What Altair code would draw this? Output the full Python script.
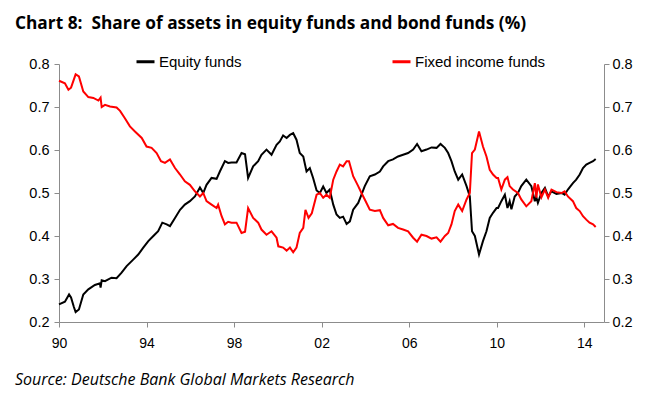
import altair as alt
import pandas as pd

title_text = "Chart 8:\u00a0 Share of assets in equity funds and bond funds (%)"
source_text = "Source: Deutsche Bank Global Markets Research"
series_names = ["Equity funds", "Fixed income funds"]
series_colors = ["#000000", "#FF0000"]
x_tick_years = [1990, 1994, 1998, 2002, 2006, 2010, 2014]
y_ticks = [0.2, 0.3, 0.4, 0.5, 0.6, 0.7, 0.8]

equity_years = [1990.0, 1990.27, 1990.46, 1990.55, 1990.68, 1990.76, 1990.91, 1991.11, 1991.34, 1991.64,
                1991.87, 1991.9, 1991.95, 1992.1, 1992.4, 1992.63, 1992.86, 1993.09, 1993.39, 1993.62,
                1993.85, 1994.08, 1994.31, 1994.53, 1994.72, 1994.92, 1995.07, 1995.3, 1995.53, 1995.75,
                1995.98, 1996.21, 1996.44, 1996.59, 1996.74, 1996.97, 1997.2, 1997.35, 1997.58, 1997.73,
                1997.88, 1998.11, 1998.34, 1998.5, 1998.64, 1998.87, 1999.1, 1999.25, 1999.48, 1999.71,
                1999.94, 2000.09, 2000.24, 2000.4, 2000.55, 2000.7, 2000.85, 2001.0, 2001.16, 2001.31,
                2001.46, 2001.61, 2001.77, 2001.92, 2002.07, 2002.22, 2002.37, 2002.53, 2002.68, 2002.83,
                2002.98, 2003.14, 2003.29, 2003.44, 2003.67, 2003.82, 2003.97, 2004.2, 2004.43, 2004.66,
                2004.81, 2005.04, 2005.26, 2005.49, 2005.72, 2005.95, 2006.18, 2006.36, 2006.56, 2006.79,
                2007.02, 2007.25, 2007.43, 2007.63, 2007.78, 2007.93, 2008.08, 2008.24, 2008.42, 2008.62,
                2008.77, 2008.87, 2009.0, 2009.19, 2009.37, 2009.53, 2009.68, 2009.83, 2009.99, 2010.06,
                2010.21, 2010.37, 2010.49, 2010.59, 2010.67, 2010.82, 2010.97, 2011.12, 2011.35, 2011.58,
                2011.74, 2011.8, 2011.88, 2012.04, 2012.2, 2012.35, 2012.5, 2012.73, 2012.96, 2013.1,
                2013.25, 2013.48, 2013.63, 2013.79, 2013.94, 2014.09, 2014.24, 2014.4, 2014.52]
equity_values = [0.241, 0.247, 0.264, 0.257, 0.235, 0.223, 0.229, 0.264, 0.276, 0.286,
                 0.290, 0.280, 0.297, 0.295, 0.303, 0.302, 0.315, 0.330, 0.345, 0.357,
                 0.373, 0.388, 0.400, 0.411, 0.431, 0.427, 0.423, 0.442, 0.461, 0.473,
                 0.481, 0.492, 0.513, 0.500, 0.519, 0.535, 0.533, 0.550, 0.574, 0.570,
                 0.571, 0.571, 0.593, 0.590, 0.535, 0.562, 0.574, 0.589, 0.601, 0.589,
                 0.612, 0.620, 0.634, 0.628, 0.635, 0.639, 0.624, 0.593, 0.585, 0.550,
                 0.558, 0.535, 0.506, 0.500, 0.515, 0.500, 0.508, 0.473, 0.450, 0.442,
                 0.445, 0.428, 0.434, 0.461, 0.477, 0.496, 0.516, 0.539, 0.543, 0.550,
                 0.562, 0.574, 0.578, 0.585, 0.589, 0.593, 0.601, 0.614, 0.597, 0.601,
                 0.606, 0.605, 0.614, 0.605, 0.593, 0.574, 0.550, 0.531, 0.543, 0.516,
                 0.492, 0.411, 0.400, 0.357, 0.388, 0.411, 0.442, 0.454, 0.465, 0.465,
                 0.481, 0.496, 0.465, 0.481, 0.462, 0.492, 0.500, 0.516, 0.531, 0.516,
                 0.481, 0.492, 0.477, 0.500, 0.512, 0.492, 0.504, 0.498, 0.500, 0.496,
                 0.508, 0.523, 0.531, 0.543, 0.558, 0.566, 0.570, 0.574, 0.579]

fixed_years = [1990.0, 1990.27, 1990.43, 1990.55, 1990.76, 1990.91, 1991.11, 1991.34, 1991.57, 1991.8,
               1991.9, 1991.95, 1992.1, 1992.33, 1992.63, 1992.79, 1993.01, 1993.24, 1993.47, 1993.78,
               1994.0, 1994.23, 1994.46, 1994.66, 1994.84, 1995.07, 1995.3, 1995.53, 1995.75, 1995.98,
               1996.21, 1996.44, 1996.59, 1996.74, 1996.97, 1997.2, 1997.27, 1997.43, 1997.58, 1997.73,
               1997.88, 1998.11, 1998.34, 1998.5, 1998.64, 1998.87, 1999.1, 1999.25, 1999.48, 1999.71,
               1999.94, 2000.02, 2000.24, 2000.4, 2000.55, 2000.7, 2000.85, 2001.0, 2001.16, 2001.26,
               2001.4, 2001.55, 2001.77, 2001.92, 2002.07, 2002.22, 2002.37, 2002.53, 2002.68, 2002.83,
               2002.98, 2003.14, 2003.25, 2003.44, 2003.67, 2003.82, 2003.97, 2004.2, 2004.43, 2004.66,
               2004.81, 2005.04, 2005.26, 2005.49, 2005.72, 2005.95, 2006.18, 2006.36, 2006.56, 2006.79,
               2007.02, 2007.25, 2007.43, 2007.63, 2007.78, 2007.93, 2008.08, 2008.24, 2008.42, 2008.62,
               2008.77, 2008.87, 2009.0, 2009.19, 2009.37, 2009.53, 2009.68, 2009.83, 2009.99, 2010.06,
               2010.21, 2010.37, 2010.49, 2010.59, 2010.74, 2010.97, 2011.12, 2011.35, 2011.58, 2011.74,
               2011.81, 2011.88, 2012.04, 2012.2, 2012.35, 2012.5, 2012.73, 2012.96, 2013.1, 2013.25,
               2013.48, 2013.63, 2013.79, 2013.94, 2014.09, 2014.24, 2014.4, 2014.52]
fixed_values = [0.761, 0.755, 0.740, 0.745, 0.776, 0.771, 0.736, 0.723, 0.721, 0.715,
                0.722, 0.700, 0.705, 0.701, 0.699, 0.691, 0.674, 0.655, 0.643, 0.628,
                0.608, 0.605, 0.593, 0.574, 0.570, 0.578, 0.558, 0.543, 0.527, 0.519,
                0.504, 0.492, 0.500, 0.481, 0.473, 0.465, 0.473, 0.446, 0.427, 0.433,
                0.431, 0.431, 0.407, 0.410, 0.465, 0.442, 0.431, 0.415, 0.403, 0.411,
                0.396, 0.376, 0.373, 0.366, 0.373, 0.362, 0.373, 0.407, 0.419, 0.461,
                0.442, 0.453, 0.496, 0.500, 0.489, 0.496, 0.489, 0.531, 0.550, 0.566,
                0.562, 0.574, 0.574, 0.539, 0.516, 0.500, 0.485, 0.461, 0.458, 0.460,
                0.442, 0.425, 0.428, 0.419, 0.415, 0.411, 0.396, 0.387, 0.403, 0.400,
                0.394, 0.397, 0.387, 0.400, 0.407, 0.427, 0.458, 0.473, 0.458, 0.485,
                0.500, 0.593, 0.601, 0.643, 0.608, 0.585, 0.554, 0.543, 0.535, 0.535,
                0.508, 0.531, 0.537, 0.516, 0.508, 0.500, 0.485, 0.469, 0.481, 0.523,
                0.489, 0.520, 0.490, 0.508, 0.489, 0.508, 0.502, 0.500, 0.504, 0.492,
                0.481, 0.465, 0.458, 0.446, 0.438, 0.431, 0.427, 0.421]

df = pd.concat([
    pd.DataFrame({"year": equity_years, "share": equity_values, "series": series_names[0]}),
    pd.DataFrame({"year": fixed_years, "share": fixed_values, "series": series_names[1]}),
], ignore_index=True)

AXIS_GRAY = "#8c8c8c"
LABEL_FONT = "Liberation Sans"

x_enc = alt.X(
    "year:Q",
    scale=alt.Scale(domain=[1990, 2014.9], nice=False, zero=False),
    axis=alt.Axis(values=x_tick_years, labelExpr="substring(toString(datum.value), 2)",
                  title=None, grid=False, tickSize=5, labelPadding=9,
                  labelFont=LABEL_FONT, labelFontSize=14, labelColor="#000000",
                  domainColor=AXIS_GRAY, tickColor=AXIS_GRAY, labelFlush=False),
)

def y_enc(orient, pad):
    return alt.Y(
        "share:Q",
        scale=alt.Scale(domain=[0.2, 0.8], nice=False, zero=False),
        axis=alt.Axis(orient=orient, values=y_ticks, format=".1f", title=None, grid=False,
                      tickSize=5, labelPadding=pad, labelFont=LABEL_FONT, labelFontSize=14.5,
                      labelColor="#000000", domainColor=AXIS_GRAY, tickColor=AXIS_GRAY),
    )

color_enc = alt.Color(
    "series:N",
    scale=alt.Scale(domain=series_names, range=series_colors),
    legend=alt.Legend(orient="none", legendX=76, legendY=-13, direction="horizontal",
                      title=None, symbolType="stroke", symbolStrokeWidth=3, symbolSize=324,
                      labelFont=LABEL_FONT, labelFontSize=15, labelColor="#000000",
                      labelOffset=3, columnPadding=144, labelLimit=300),
)

base = alt.Chart(df)

equity_line = base.transform_filter(alt.datum.series == series_names[0]).mark_line(
    strokeWidth=2).encode(x=x_enc, y=y_enc("left", 5), color=color_enc)
fixed_line = base.transform_filter(alt.datum.series == series_names[1]).mark_line(
    strokeWidth=2).encode(x=x_enc, y=y_enc("right", 3), color=color_enc)

title_mark = alt.Chart(pd.DataFrame({"t": [title_text]})).mark_text(
    align="left", baseline="alphabetic", font="Open Sans", fontSize=17.3, fontWeight="bold", color="#000000"
).encode(x=alt.value(-44), y=alt.value(-35), text="t:N")

source_mark = alt.Chart(pd.DataFrame({"t": [source_text]})).mark_text(
    align="left", baseline="alphabetic", font="Open Sans", fontSize=16, fontStyle="italic", color="#000000"
).encode(x=alt.value(-44), y=alt.value(321), text="t:N")

chart = alt.layer(equity_line, fixed_line, title_mark, source_mark).resolve_scale(
    y="shared"
).resolve_axis(y="independent").properties(
    width=545, height=258,
    autosize=alt.AutoSizeParams(type="none"),
    padding={"left": 51, "top": 56, "right": 48, "bottom": 72},
    background="white",
).configure_view(stroke=None)

chart.save("out.html", embed_options={"renderer": "svg", "actions": False})
